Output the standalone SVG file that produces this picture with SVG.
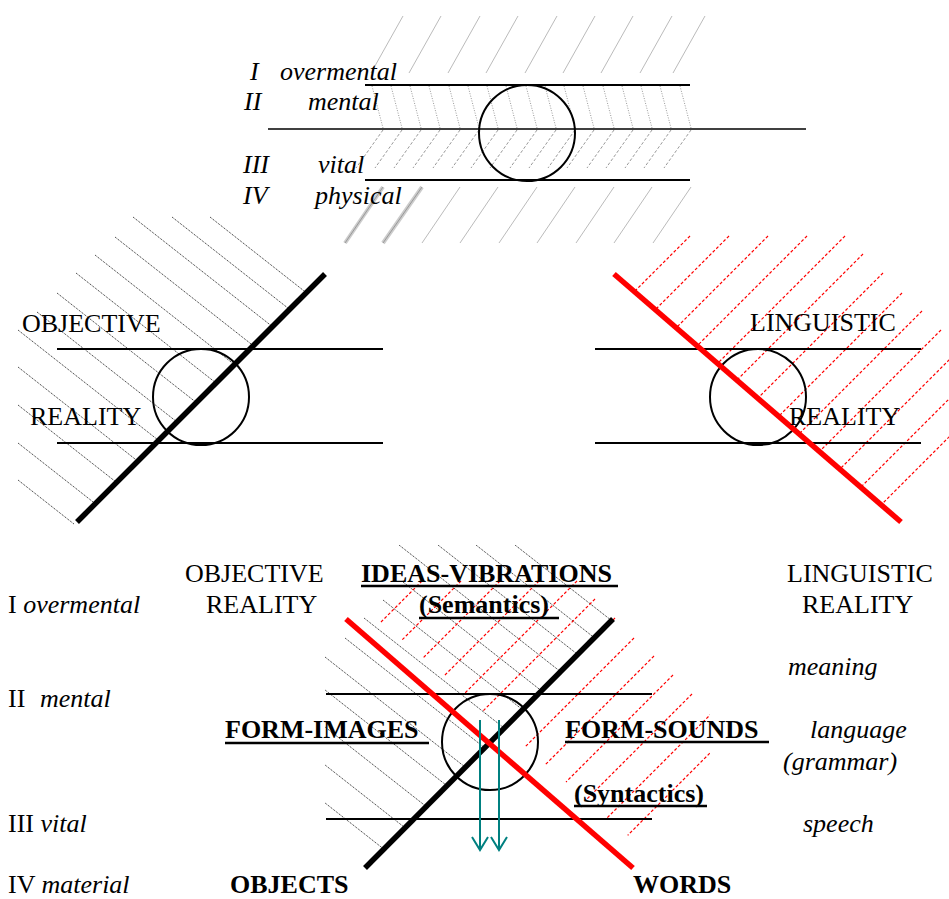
<svg xmlns="http://www.w3.org/2000/svg" width="949" height="899" viewBox="0 0 949 899">
<style>
text{font-family:"Liberation Serif","Times New Roman",serif;font-size:26px;fill:#000}
.it{font-style:italic}
.b{font-weight:bold}
.ln{stroke:#000;stroke-width:2.2}
.ln2{stroke:#000;stroke-width:1.6}
.circ{fill:none;stroke:#000;stroke-width:2}
.thk{stroke:#000;stroke-width:5.5}
.red{stroke:#f00;stroke-width:5.5}
.hb{stroke:#222;stroke-width:1;stroke-dasharray:1 1}
.hr{stroke:#f00;stroke-width:1.2;stroke-dasharray:3 2}
.hg{stroke:#bbb;stroke-width:1}
.hgd{stroke:#999;stroke-width:1;stroke-dasharray:1 1.5}
.hgdash{stroke:#999;stroke-width:1;stroke-dasharray:3 2}
.ul{stroke:#000;stroke-width:2.5}
.ar{stroke:#008080;stroke-width:2;fill:none}
</style>
<defs>
<clipPath id="cbl"><rect x="325" y="545" width="400" height="330"/></clipPath>
<clipPath id="cbr"><rect x="300" y="556" width="410" height="330"/></clipPath>
</defs>

<g id="top-diagram">
 <g id="top-hatch">
  <path class="hg" d="M403,16L371,73M441,16L409,73M480,16L448,73M518,16L486,73M557,16L525,73M595,16L563,73M633,16L601,73M672,16L640,73M705,16L673,73"/>
  <path class="hgd" d="M372,86L383,128M391,86L402,128M410,86L421,128M429,86L440,128M449,86L460,128M468,86L479,128M487,86L498,128M506,86L517,128M526,86L537,128M545,86L556,128M564,86L575,128M583,86L594,128M603,86L614,128M622,86L633,128M641,86L652,128M660,86L671,128M680,86L691,128"/>
  <path class="hgdash" d="M383,130L356,168M402,130L375,168M421,130L394,168M440,130L413,168M460,130L433,168M479,130L452,168M498,130L471,168M517,130L490,168M537,130L510,168M556,130L529,168M575,130L548,168M594,130L567,168M614,130L587,168M633,130L606,168M652,130L625,168M671,130L644,168M691,130L664,168"/>
  <path stroke="#ccc" stroke-width="4" d="M383,187L345,243M422,187L383,243"/>
  <path stroke="#999" stroke-width="1" d="M383,187L345,243M422,187L383,243"/>
  <path class="hg" stroke="#aaa" d="M460,187L422,243M498,187L460,243M537,187L499,243M575,187L537,243M614,187L576,243M652,187L614,243M691,187L653,243"/>
 </g>
 <line class="ln" x1="365" y1="85" x2="690" y2="85"/>
 <line class="ln2" x1="268" y1="129" x2="806" y2="129"/>
 <line class="ln" x1="365" y1="180" x2="690" y2="180"/>
 <circle class="circ" cx="527" cy="133" r="48"/>
 <g id="top-labels">
  <text class="it" x="250" y="80">I</text><text class="it" x="280" y="80">overmental</text>
  <text class="it" x="244" y="110">II</text><text class="it" x="308" y="110">mental</text>
  <text class="it" x="243" y="173">III</text><text class="it" x="318" y="173">vital</text>
  <text class="it" x="243" y="204">IV</text><text class="it" x="315" y="204">physical</text>
 </g>
</g>

<g id="objective-reality">
 <path class="hb" d="M133,217L272.4,326.6M172,217L289.6,309.4M210,217L306.3,292.7M115,237L253.3,345.7M95,255L234.4,364.6M76,273L216,383M57,293L196.4,402.6M37,312L177,422M18,330L158.5,440.4M18,367L137.8,461.2M18,405L116.5,482.4M18,443L95.3,503.7M18,480L74.6,524.5"/>
 <line class="ln" x1="57" y1="349" x2="383" y2="349"/>
 <line class="ln" x1="57" y1="443" x2="383" y2="443"/>
 <circle class="circ" cx="201" cy="397" r="48"/>
 <line class="thk" x1="325" y1="274" x2="77" y2="522"/>
 <text x="22" y="332">OBJECTIVE</text>
 <text x="30" y="425">REALITY</text>
</g>

<g id="linguistic-reality">
 <path class="hr" d="M690,236L634.4,291.6M729,236L655.3,309.7M768,236L676.2,327.8M807,236L697.2,345.8M845,236L717.5,363.5M863,254L736.9,380.1M883,273L757.8,398.2M902,293L778.7,416.3M922,311L799.1,433.9M941,330L819.5,451.5M960,349L839.9,469.1M980,368L860.8,487.2M999,387L881.2,504.8"/>
 <line class="ln" x1="595" y1="349" x2="921" y2="349"/>
 <line class="ln" x1="595" y1="443" x2="921" y2="443"/>
 <circle class="circ" cx="758" cy="397" r="48"/>
 <line class="red" x1="614" y1="274" x2="901" y2="522"/>
 <text x="750" y="331">LINGUISTIC</text>
 <text x="789" y="425">REALITY</text>
</g>

<g id="combined">
 <g clip-path="url(#cbl)">
  <path class="hb" d="M399,545L560.4,671.6M438,545L577.6,654.4M476,545L594.3,637.7M515,545L611.5,620.5M403,582L541.3,690.7M383,600L522.4,709.6M364,618L504,728M345,638L484.4,747.6M325,657L465,767M306,675L446.5,785.4M306,712L425.8,806.2M306,750L404.5,827.4M306,788L383.3,848.7"/>
 </g>
 <g clip-path="url(#cbr)">
  <path class="hr" d="M422,581L380.9,622.1M461,581L401.8,640.2M500,581L422.7,658.3M539,581L443.6,676.4M577,581L464,694M595,599L483.4,710.6M615,618L504.3,728.7M634,638L525.2,746.8M654,656L545.6,764.4M673,675L566,782M692,694L586.4,799.6M712,713L607.3,817.7M731,732L627.7,835.3"/>
 </g>
 <line class="ln" x1="326" y1="694" x2="652" y2="694"/>
 <line class="ln" x1="326" y1="819" x2="652" y2="819"/>
 <circle class="circ" cx="490" cy="742" r="48"/>
 <line class="thk" x1="613" y1="619" x2="365" y2="868"/>
 <line class="red" x1="346" y1="619" x2="633" y2="868"/>
 <g id="arrows">
  <path class="ar" d="M480,720V850M472,837L480,850L488,837"/>
  <path class="ar" d="M499,720V850M491,837L499,850L507,837"/>
 </g>
</g>

<g id="bottom-labels">
 <text x="8" y="613">I <tspan class="it">overmental</tspan></text>
 <text x="8" y="707">II <tspan class="it" x="40">mental</tspan></text>
 <text x="8" y="832">III <tspan class="it">vital</tspan></text>
 <text x="8" y="893">IV <tspan class="it">material</tspan></text>
 <text x="185" y="582">OBJECTIVE</text>
 <text x="206" y="613">REALITY</text>
 <text x="787" y="582">LINGUISTIC</text>
 <text x="802" y="613">REALITY</text>
 <text class="it" x="788" y="675">meaning</text>
 <text class="it" x="810" y="738">language</text>
 <text class="it" x="783" y="770">(grammar)</text>
 <text class="it" x="803" y="832">speech</text>
 <text class="b" x="361" y="582">IDEAS-VIBRATIONS</text>
 <line class="ul" x1="361" y1="586" x2="618" y2="586"/>
 <text class="b" x="419" y="613">(Semantics)</text>
 <line class="ul" x1="419" y1="618" x2="559" y2="618"/>
 <text class="b" x="225" y="738">FORM-IMAGES</text>
 <line class="ul" x1="225" y1="743" x2="429" y2="743"/>
 <text class="b" x="565" y="738">FORM-SOUNDS</text>
 <line class="ul" x1="565" y1="742" x2="769" y2="742"/>
 <text class="b" x="574" y="802">(Syntactics)</text>
 <line class="ul" x1="574" y1="806" x2="707" y2="806"/>
 <text class="b" x="230" y="893">OBJECTS</text>
 <text class="b" x="633" y="893">WORDS</text>
</g>
</svg>
